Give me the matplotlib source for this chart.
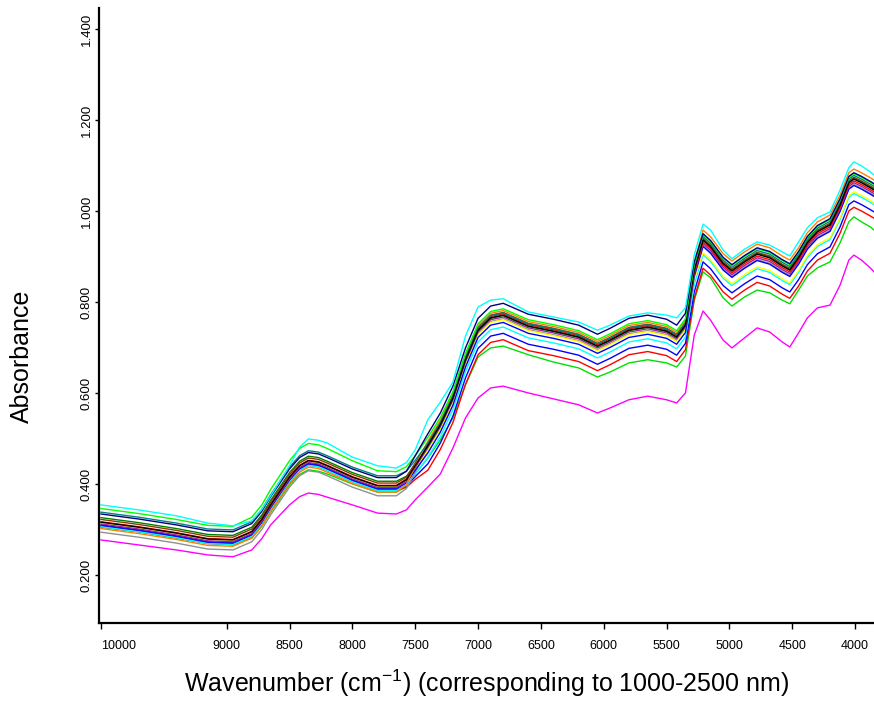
import matplotlib.pyplot as plt

plt.rcParams['font.family'] = ['Liberation Sans', 'DejaVu Sans']
plt.rcParams['mathtext.default'] = 'regular'

# Wspólna siatka liczb falowych (cm-1)
wavenumber = [10000, 9700, 9400, 9150, 8950, 8800, 8720, 8650, 8500, 8420,
              8350, 8270, 8200, 8000, 7800, 7650, 7570,
              7500, 7400, 7300, 7200, 7100, 7000, 6900,
              6800, 6600, 6400, 6200, 6050, 5950, 5800, 5650, 5500, 5420,
              5350, 5280, 5210, 5150, 5050, 4980, 4880, 4780, 4680, 4580,
              4520, 4450, 4380, 4300, 4200, 4120, 4050, 4010, 3950, 3880, 3850]

# Widma (absorbancja)
cyan = [0.354, 0.343, 0.330, 0.314, 0.308, 0.319, 0.344, 0.374, 0.440, 0.481,
        0.499, 0.496, 0.490, 0.459, 0.440, 0.435, 0.447,
        0.475, 0.541, 0.580, 0.624, 0.725, 0.789, 0.804,
        0.807, 0.778, 0.767, 0.756, 0.738, 0.749, 0.769, 0.776, 0.771, 0.765,
        0.787, 0.903, 0.971, 0.958, 0.914, 0.895, 0.916, 0.932, 0.925, 0.910,
        0.901, 0.932, 0.963, 0.985, 0.998, 1.046, 1.095, 1.108, 1.099, 1.086, 1.079]
navy = [0.334, 0.323, 0.310, 0.297, 0.295, 0.313, 0.340, 0.372, 0.433, 0.458,
        0.469, 0.466, 0.458, 0.433, 0.414, 0.414, 0.428,
        0.462, 0.510, 0.556, 0.615, 0.699, 0.764, 0.791,
        0.797, 0.773, 0.762, 0.749, 0.729, 0.742, 0.764, 0.771, 0.762, 0.749,
        0.775, 0.888, 0.950, 0.935, 0.898, 0.882, 0.902, 0.919, 0.911, 0.893,
        0.884, 0.911, 0.944, 0.968, 0.983, 1.027, 1.076, 1.084, 1.076, 1.065, 1.060]
lime = [0.346, 0.335, 0.322, 0.309, 0.307, 0.327, 0.354, 0.388, 0.451, 0.478,
        0.489, 0.486, 0.478, 0.451, 0.429, 0.427, 0.438,
        0.462, 0.502, 0.546, 0.603, 0.687, 0.752, 0.779,
        0.785, 0.761, 0.750, 0.737, 0.717, 0.730, 0.752, 0.759, 0.750, 0.737,
        0.763, 0.882, 0.948, 0.933, 0.896, 0.880, 0.900, 0.917, 0.909, 0.891,
        0.882, 0.909, 0.942, 0.966, 0.981, 1.025, 1.074, 1.082, 1.074, 1.063, 1.058]
teal = [0.338, 0.327, 0.314, 0.301, 0.299, 0.317, 0.344, 0.376, 0.437, 0.462,
        0.473, 0.470, 0.462, 0.437, 0.418, 0.418, 0.428,
        0.452, 0.489, 0.535, 0.594, 0.678, 0.743, 0.770,
        0.776, 0.752, 0.741, 0.728, 0.708, 0.721, 0.743, 0.750, 0.741, 0.728,
        0.754, 0.878, 0.944, 0.929, 0.892, 0.876, 0.896, 0.913, 0.905, 0.887,
        0.878, 0.905, 0.938, 0.962, 0.977, 1.021, 1.070, 1.078, 1.070, 1.059, 1.054]
orange = [0.302, 0.291, 0.278, 0.265, 0.263, 0.281, 0.308, 0.340, 0.401, 0.426,
          0.437, 0.434, 0.426, 0.401, 0.382, 0.382, 0.399,
          0.440, 0.494, 0.540, 0.599, 0.683, 0.748, 0.775,
          0.781, 0.757, 0.746, 0.733, 0.713, 0.726, 0.748, 0.755, 0.746, 0.733,
          0.759, 0.886, 0.958, 0.943, 0.906, 0.890, 0.910, 0.927, 0.919, 0.901,
          0.892, 0.919, 0.952, 0.976, 0.991, 1.035, 1.084, 1.092, 1.084, 1.073, 1.068]
brown = [0.322, 0.311, 0.298, 0.285, 0.283, 0.301, 0.328, 0.360, 0.421, 0.446,
         0.457, 0.454, 0.446, 0.421, 0.402, 0.402, 0.415,
         0.446, 0.490, 0.536, 0.595, 0.679, 0.744, 0.771,
         0.777, 0.753, 0.742, 0.729, 0.709, 0.722, 0.744, 0.751, 0.742, 0.729,
         0.755, 0.874, 0.940, 0.925, 0.888, 0.872, 0.892, 0.909, 0.901, 0.883,
         0.874, 0.901, 0.934, 0.958, 0.973, 1.017, 1.066, 1.074, 1.066, 1.055, 1.050]
black = [0.316, 0.305, 0.292, 0.279, 0.277, 0.295, 0.322, 0.354, 0.415, 0.440,
         0.451, 0.448, 0.440, 0.415, 0.396, 0.396, 0.409,
         0.440, 0.484, 0.530, 0.589, 0.673, 0.738, 0.765,
         0.771, 0.747, 0.736, 0.723, 0.703, 0.716, 0.738, 0.745, 0.736, 0.723,
         0.749, 0.870, 0.936, 0.921, 0.884, 0.868, 0.888, 0.905, 0.897, 0.879,
         0.870, 0.897, 0.930, 0.954, 0.969, 1.013, 1.062, 1.070, 1.062, 1.051, 1.046]
red = [0.317, 0.306, 0.293, 0.280, 0.278, 0.296, 0.323, 0.355, 0.416, 0.441,
       0.452, 0.449, 0.441, 0.416, 0.397, 0.397, 0.411,
       0.443, 0.487, 0.533, 0.592, 0.676, 0.741, 0.768,
       0.774, 0.750, 0.739, 0.726, 0.706, 0.719, 0.741, 0.748, 0.739, 0.726,
       0.752, 0.866, 0.932, 0.917, 0.880, 0.864, 0.884, 0.901, 0.893, 0.875,
       0.866, 0.893, 0.926, 0.950, 0.965, 1.009, 1.058, 1.066, 1.058, 1.047, 1.042]
purple = [0.312, 0.301, 0.288, 0.275, 0.273, 0.291, 0.318, 0.350, 0.411, 0.436,
          0.447, 0.444, 0.436, 0.411, 0.392, 0.392, 0.405,
          0.436, 0.480, 0.526, 0.585, 0.669, 0.734, 0.761,
          0.767, 0.743, 0.732, 0.719, 0.699, 0.712, 0.734, 0.741, 0.732, 0.719,
          0.745, 0.862, 0.928, 0.913, 0.876, 0.860, 0.880, 0.897, 0.889, 0.871,
          0.862, 0.889, 0.922, 0.946, 0.961, 1.005, 1.054, 1.062, 1.054, 1.043, 1.038]
dark_green = [0.326, 0.315, 0.302, 0.289, 0.287, 0.305, 0.332, 0.364, 0.425, 0.450,
              0.461, 0.458, 0.450, 0.425, 0.406, 0.406, 0.417,
              0.442, 0.483, 0.529, 0.588, 0.672, 0.737, 0.764,
              0.770, 0.746, 0.735, 0.722, 0.702, 0.715, 0.737, 0.744, 0.735, 0.722,
              0.748, 0.872, 0.938, 0.923, 0.886, 0.870, 0.890, 0.907, 0.899, 0.881,
              0.872, 0.899, 0.932, 0.956, 0.971, 1.015, 1.064, 1.072, 1.064, 1.053, 1.048]
blue = [0.310, 0.299, 0.286, 0.273, 0.271, 0.289, 0.316, 0.348, 0.409, 0.434,
        0.445, 0.442, 0.434, 0.409, 0.390, 0.390, 0.402,
        0.430, 0.468, 0.514, 0.573, 0.657, 0.722, 0.749,
        0.755, 0.731, 0.720, 0.707, 0.687, 0.700, 0.722, 0.729, 0.720, 0.707,
        0.733, 0.856, 0.922, 0.907, 0.870, 0.854, 0.874, 0.891, 0.883, 0.865,
        0.856, 0.883, 0.916, 0.940, 0.955, 0.999, 1.048, 1.056, 1.048, 1.037, 1.032]
yellow = [0.315, 0.304, 0.291, 0.278, 0.276, 0.294, 0.321, 0.353, 0.414, 0.439,
          0.450, 0.447, 0.439, 0.414, 0.395, 0.395, 0.407,
          0.434, 0.474, 0.520, 0.579, 0.663, 0.728, 0.755,
          0.761, 0.737, 0.726, 0.713, 0.693, 0.706, 0.728, 0.735, 0.726, 0.713,
          0.739, 0.850, 0.908, 0.893, 0.856, 0.840, 0.860, 0.877, 0.869, 0.851,
          0.842, 0.869, 0.902, 0.926, 0.941, 0.985, 1.034, 1.042, 1.034, 1.023, 1.018]
gray = [0.294, 0.283, 0.270, 0.257, 0.255, 0.273, 0.300, 0.332, 0.393, 0.418,
        0.429, 0.426, 0.418, 0.393, 0.374, 0.374, 0.390,
        0.426, 0.476, 0.522, 0.581, 0.665, 0.730, 0.757,
        0.763, 0.739, 0.728, 0.715, 0.695, 0.708, 0.730, 0.737, 0.728, 0.715,
        0.741, 0.858, 0.924, 0.909, 0.872, 0.856, 0.876, 0.893, 0.885, 0.867,
        0.858, 0.885, 0.918, 0.942, 0.957, 1.001, 1.050, 1.058, 1.050, 1.039, 1.034]
light_cyan = [0.306, 0.295, 0.282, 0.269, 0.267, 0.285, 0.312, 0.344, 0.405, 0.430,
              0.441, 0.438, 0.430, 0.405, 0.386, 0.386, 0.397,
              0.422, 0.458, 0.504, 0.563, 0.647, 0.712, 0.739,
              0.745, 0.721, 0.710, 0.697, 0.677, 0.690, 0.712, 0.719, 0.710, 0.697,
              0.723, 0.838, 0.904, 0.889, 0.852, 0.836, 0.856, 0.873, 0.865, 0.847,
              0.838, 0.865, 0.898, 0.922, 0.937, 0.981, 1.030, 1.038, 1.030, 1.019, 1.014]
blue_low = [0.308, 0.297, 0.284, 0.271, 0.269, 0.287, 0.314, 0.346, 0.407, 0.432,
            0.443, 0.440, 0.432, 0.407, 0.388, 0.388, 0.396,
            0.416, 0.444, 0.490, 0.549, 0.633, 0.698, 0.725,
            0.731, 0.707, 0.696, 0.683, 0.663, 0.676, 0.698, 0.705, 0.696, 0.683,
            0.709, 0.822, 0.888, 0.873, 0.836, 0.820, 0.840, 0.857, 0.849, 0.831,
            0.822, 0.849, 0.882, 0.906, 0.921, 0.965, 1.014, 1.022, 1.014, 1.003, 0.998]
red_low = [0.306, 0.295, 0.282, 0.269, 0.267, 0.285, 0.312, 0.344, 0.405, 0.430,
           0.441, 0.438, 0.430, 0.405, 0.386, 0.386, 0.393,
           0.410, 0.430, 0.476, 0.535, 0.619, 0.684, 0.711,
           0.717, 0.693, 0.682, 0.669, 0.649, 0.662, 0.684, 0.691, 0.682, 0.669,
           0.695, 0.808, 0.874, 0.859, 0.822, 0.806, 0.826, 0.843, 0.835, 0.817,
           0.808, 0.835, 0.868, 0.892, 0.907, 0.951, 1.000, 1.008, 1.000, 0.989, 0.984]
green_low = [0.305, 0.295, 0.281, 0.270, 0.266, 0.281, 0.307, 0.338, 0.398, 0.421,
             0.431, 0.428, 0.422, 0.400, 0.382, 0.382, 0.394,
             0.422, 0.457, 0.497, 0.545, 0.618, 0.679, 0.699,
             0.703, 0.684, 0.668, 0.655, 0.635, 0.646, 0.666, 0.673, 0.666, 0.657,
             0.681, 0.804, 0.866, 0.853, 0.809, 0.791, 0.811, 0.826, 0.820, 0.804,
             0.796, 0.826, 0.857, 0.875, 0.888, 0.930, 0.976, 0.987, 0.976, 0.965, 0.958]
magenta = [0.277, 0.266, 0.255, 0.244, 0.240, 0.255, 0.280, 0.310, 0.354, 0.372,
           0.380, 0.377, 0.371, 0.354, 0.336, 0.334, 0.343,
           0.365, 0.393, 0.422, 0.479, 0.545, 0.589, 0.611,
           0.615, 0.600, 0.587, 0.574, 0.556, 0.567, 0.585, 0.593, 0.585, 0.578,
           0.600, 0.727, 0.780, 0.760, 0.716, 0.699, 0.721, 0.743, 0.734, 0.712,
           0.701, 0.732, 0.765, 0.787, 0.793, 0.837, 0.892, 0.903, 0.892, 0.875, 0.866]

spectra = [
    (magenta, '#ff00ff'), (green_low, '#00e000'), (red_low, '#ff0000'),
    (blue_low, '#0000ff'), (light_cyan, '#00ffff'), (gray, '#909090'),
    (yellow, '#ffff00'), (blue, '#0000ff'), (purple, '#a020a0'),
    (dark_green, '#008000'), (red, '#ff0000'), (brown, '#804000'),
    (orange, '#ff8000'), (teal, '#008080'), (black, '#000000'),
    (lime, '#00ff00'), (navy, '#000080'), (cyan, '#00ffff'),
]

x_ticks = [10000, 9000, 8500, 8000, 7500, 7000, 6500, 6000, 5500, 5000, 4500, 4000]
y_ticks = [0.2, 0.4, 0.6, 0.8, 1.0, 1.2, 1.4]

fig = plt.figure(figsize=(8.74, 7.01), dpi=100)
ax = fig.add_axes([0.1138, 0.1113, 0.8862, 0.8773])

for values, color in spectra:
    ax.plot(wavenumber, values, color=color, linewidth=1.0)

ax.set_xlim(10012, 3850)
ax.set_ylim(0.0945, 1.446)

ax.set_xticks(x_ticks)
ax.set_xticklabels([str(t) for t in x_ticks], fontsize=9)
ax.get_xticklabels()[0].set_horizontalalignment('left')
ax.set_yticks(y_ticks)
ax.set_yticklabels(['%.3f' % t for t in y_ticks], fontsize=9.5, rotation=90, va='center')

for side in ['top', 'right']:
    ax.spines[side].set_visible(False)
for side in ['left', 'bottom']:
    ax.spines[side].set_linewidth(1.6)
ax.tick_params(axis='x', length=4, width=1, pad=8)
ax.tick_params(axis='y', length=3, width=1, pad=2)

fig.text(487 / 874, 1 - 683 / 701,
         'Wavenumber (cm$^{-1}$) (corresponding to 1000-2500 nm)',
         ha='center', va='center', fontsize=18)
fig.text(22 / 874, 1 - 356 / 701, 'Absorbance', rotation=90,
         ha='center', va='center', fontsize=18)

fig.savefig('out.png', dpi=100)
